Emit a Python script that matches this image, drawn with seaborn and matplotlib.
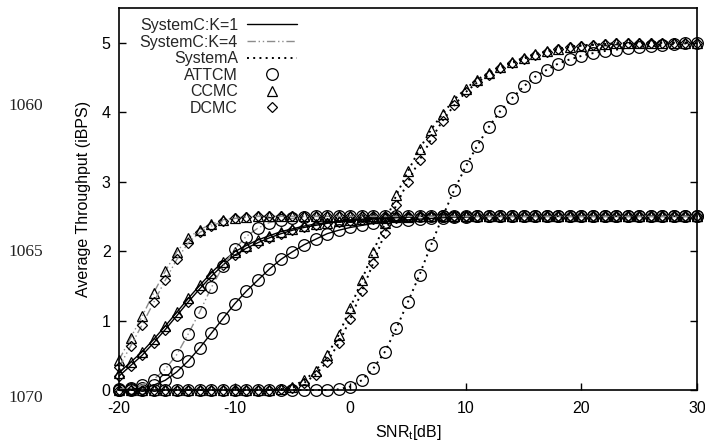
import numpy as np
import pandas as pd
import matplotlib
matplotlib.use("Agg")
import matplotlib.pyplot as plt
from matplotlib.lines import Line2D
import seaborn as sns

# ---------------- data ----------------
snr = list(range(-20, 31))

k1_attcm = [0.00, 0.01, 0.03, 0.07, 0.14, 0.26, 0.42, 0.61, 0.82, 1.03,
            1.24, 1.42, 1.58, 1.74, 1.88, 1.99, 2.09, 2.17, 2.25, 2.30,
            2.34, 2.37, 2.40, 2.42, 2.44, 2.45, 2.46, 2.47, 2.48, 2.49,
            2.49, 2.50, 2.50, 2.50, 2.50, 2.50, 2.50, 2.50, 2.50, 2.50,
            2.50, 2.50, 2.50, 2.50, 2.50, 2.50, 2.50, 2.50, 2.50, 2.50, 2.50]
k1_ccmc = [0.25, 0.40, 0.55, 0.73, 0.92, 1.12, 1.32, 1.51, 1.69, 1.85,
           1.99, 2.08, 2.16, 2.22, 2.28, 2.32, 2.36, 2.39, 2.41, 2.43,
           2.45, 2.46, 2.47, 2.48, 2.49, 2.49, 2.50, 2.50, 2.50, 2.50,
           2.50, 2.50, 2.50, 2.50, 2.50, 2.50, 2.50, 2.50, 2.50, 2.50,
           2.50, 2.50, 2.50, 2.50, 2.50, 2.50, 2.50, 2.50, 2.50, 2.50, 2.50]
k1_dcmc = [0.20, 0.35, 0.50, 0.68, 0.87, 1.07, 1.27, 1.46, 1.64, 1.80,
           1.94, 2.04, 2.12, 2.19, 2.25, 2.30, 2.34, 2.37, 2.40, 2.42,
           2.44, 2.45, 2.46, 2.47, 2.48, 2.49, 2.50, 2.50, 2.50, 2.50,
           2.50, 2.50, 2.50, 2.50, 2.50, 2.50, 2.50, 2.50, 2.50, 2.50,
           2.50, 2.50, 2.50, 2.50, 2.50, 2.50, 2.50, 2.50, 2.50, 2.50, 2.50]

k4_attcm = [0.01, 0.03, 0.07, 0.15, 0.30, 0.51, 0.81, 1.13, 1.48, 1.78,
            2.03, 2.21, 2.33, 2.41, 2.45, 2.47, 2.49, 2.50, 2.50, 2.50,
            2.50, 2.50, 2.50, 2.50, 2.50, 2.50, 2.50, 2.50, 2.50, 2.50,
            2.50, 2.50, 2.50, 2.50, 2.50, 2.50, 2.50, 2.50, 2.50, 2.50,
            2.50, 2.50, 2.50, 2.50, 2.50, 2.50, 2.50, 2.50, 2.50, 2.50, 2.50]
k4_ccmc = [0.43, 0.75, 1.06, 1.40, 1.71, 1.99, 2.19, 2.31, 2.39, 2.45,
           2.48, 2.49, 2.50, 2.50, 2.50, 2.50, 2.50, 2.50, 2.50, 2.50,
           2.50, 2.50, 2.50, 2.50, 2.50, 2.50, 2.50, 2.50, 2.50, 2.50,
           2.50, 2.50, 2.50, 2.50, 2.50, 2.50, 2.50, 2.50, 2.50, 2.50,
           2.50, 2.50, 2.50, 2.50, 2.50, 2.50, 2.50, 2.50, 2.50, 2.50, 2.50]
k4_dcmc = [0.33, 0.63, 0.94, 1.26, 1.58, 1.88, 2.12, 2.27, 2.36, 2.43,
           2.47, 2.49, 2.50, 2.50, 2.50, 2.50, 2.50, 2.50, 2.50, 2.50,
           2.50, 2.50, 2.50, 2.50, 2.50, 2.50, 2.50, 2.50, 2.50, 2.50,
           2.50, 2.50, 2.50, 2.50, 2.50, 2.50, 2.50, 2.50, 2.50, 2.50,
           2.50, 2.50, 2.50, 2.50, 2.50, 2.50, 2.50, 2.50, 2.50, 2.50, 2.50]

sa_attcm = [0.00, 0.00, 0.00, 0.00, 0.00, 0.00, 0.00, 0.00, 0.00, 0.00,
            0.00, 0.00, 0.00, 0.00, 0.00, 0.00, 0.00, 0.00, 0.00, 0.01,
            0.05, 0.14, 0.31, 0.55, 0.89, 1.27, 1.66, 2.09, 2.50, 2.88,
            3.22, 3.52, 3.79, 4.02, 4.20, 4.37, 4.51, 4.61, 4.70, 4.76,
            4.81, 4.85, 4.88, 4.90, 4.92, 4.94, 4.95, 4.97, 4.98, 4.99, 4.99]
sa_ccmc = [0.00, 0.00, 0.00, 0.00, 0.00, 0.00, 0.00, 0.00, 0.00, 0.00,
           0.00, 0.00, 0.00, 0.00, 0.01, 0.05, 0.14, 0.27, 0.50, 0.79,
           1.18, 1.58, 1.99, 2.40, 2.81, 3.15, 3.47, 3.75, 3.98, 4.18,
           4.34, 4.47, 4.57, 4.65, 4.72, 4.78, 4.84, 4.88, 4.91, 4.94,
           4.96, 4.97, 4.98, 4.99, 4.99, 5.00, 5.00, 5.00, 5.00, 5.00, 5.00]
sa_dcmc = [0.00, 0.00, 0.00, 0.00, 0.00, 0.00, 0.00, 0.00, 0.00, 0.00,
           0.00, 0.00, 0.00, 0.00, 0.01, 0.03, 0.10, 0.22, 0.41, 0.67,
           1.02, 1.42, 1.83, 2.26, 2.67, 3.00, 3.31, 3.61, 3.88, 4.10,
           4.29, 4.43, 4.54, 4.63, 4.71, 4.77, 4.83, 4.87, 4.91, 4.94,
           4.96, 4.97, 4.98, 4.99, 4.99, 5.00, 5.00, 5.00, 5.00, 5.00, 5.00]

x_ticks = [-20, -10, 0, 10, 20, 30]
y_ticks = [0, 1, 2, 3, 4, 5]
line_numbers = ["1060", "1065", "1070"]
line_number_y = [106, 252, 398]   # pixel rows of the margin numbers

# ---------------- style ----------------
sns.set_theme(style="ticks")
plt.rcParams["font.family"] = ["Liberation Sans", "DejaVu Sans"]
plt.rcParams["xtick.direction"] = "in"
plt.rcParams["ytick.direction"] = "in"
plt.rcParams["axes.unicode_minus"] = False

W, H = 705, 443
fig = plt.figure(figsize=(W / 100, H / 100), dpi=100)
ax = fig.add_axes([119 / W, 1 - 390 / H, (697 - 119) / W, (390 - 8) / H])

fs = 11.5
k1_style = dict(color="black", linewidth=1.0, linestyle="-")
k4_style = dict(color="#8c8c8c", linewidth=1.0, linestyle=(0, (6, 2, 1, 2, 1, 2)))
sa_style = dict(color="black", linewidth=1.4, linestyle=(0, (1, 2.2)))

mk = {"ATTCM": ("o", 8.4), "CCMC": ("^", 7.8), "DCMC": ("D", 5.6)}

series = [
    (sa_attcm, sa_style, "ATTCM"),
    (sa_ccmc, sa_style, "CCMC"),
    (sa_dcmc, sa_style, "DCMC"),
    (k1_attcm, k1_style, "ATTCM"),
    (k1_ccmc, k1_style, "CCMC"),
    (k1_dcmc, k1_style, "DCMC"),
    (k4_attcm, k4_style, "ATTCM"),
    (k4_ccmc, k4_style, "CCMC"),
    (k4_dcmc, k4_style, "DCMC"),
]

for vals, st, code in series:
    m, ms = mk[code]
    df = pd.DataFrame({"snr": snr, "thr": vals})
    sns.lineplot(data=df, x="snr", y="thr", ax=ax, legend=False,
                 marker=m, markersize=ms, markerfacecolor="none",
                 markeredgecolor="black", markeredgewidth=0.9,
                 clip_on=False, **st)

ax.set_xlim(-20, 30)
ax.set_ylim(0, 5.5)
ax.set_xticks(x_ticks)
ax.set_yticks(y_ticks)
ax.tick_params(axis="both", labelsize=fs, length=5, width=1.0, color="black",
               pad=6, labelcolor="black")
ax.tick_params(axis="x", pad=8)
ax.tick_params(axis="y", right=True, left=True)
ax.tick_params(axis="x", top=False, bottom=True)
for sp in ax.spines.values():
    sp.set_visible(True)
    sp.set_color("black")
    sp.set_linewidth(1.2)

ax.set_xlabel("SNR$_\\mathregular{t}$[dB]", fontsize=fs, color="black", labelpad=5)
ax.set_ylabel("Average Throughput (iBPS)", fontsize=fs, color="black", labelpad=8)

handles = [
    Line2D([], [], **k1_style),
    Line2D([], [], **k4_style),
    Line2D([], [], **sa_style),
    Line2D([], [], linestyle="none", marker="o", markersize=8.4,
           markerfacecolor="none", markeredgecolor="black", markeredgewidth=0.9),
    Line2D([], [], linestyle="none", marker="^", markersize=7.8,
           markerfacecolor="none", markeredgecolor="black", markeredgewidth=0.9),
    Line2D([], [], linestyle="none", marker="D", markersize=5.6,
           markerfacecolor="none", markeredgecolor="black", markeredgewidth=0.9),
]
labels = ["SystemC:K=1", "SystemC:K=4", "SystemA", "ATTCM", "CCMC", "DCMC"]
leg = ax.legend(handles, labels, loc="upper right",
                bbox_to_anchor=((297 - 119) / 578, 1 - 10 / 382),
                markerfirst=False, frameon=False, fontsize=fs,
                handlelength=3.1, handletextpad=0.6, labelspacing=0.1,
                borderpad=0, borderaxespad=0)

for txt, yp in zip(line_numbers, line_number_y):
    fig.text(26 / W, 1 - yp / H, txt, fontsize=12.5, family="Liberation Serif",
             ha="center", va="center", color="#222222")

fig.savefig("out.png", dpi=100)
